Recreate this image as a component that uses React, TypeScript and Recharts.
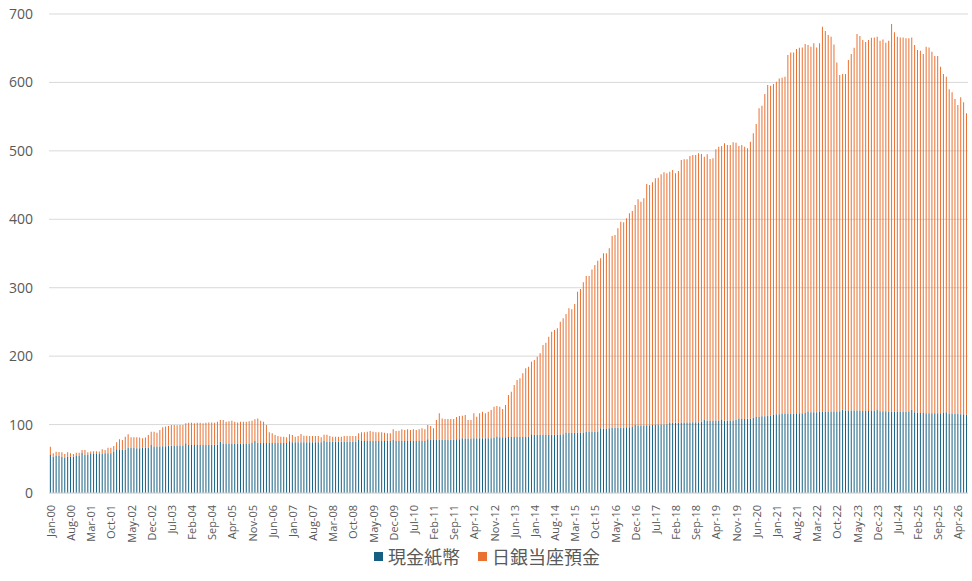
import React from "react";
import { BarChart, Bar, XAxis, YAxis, CartesianGrid, Legend } from "recharts";

// monthly, Jan-00 .. Jul-26, values in trillion yen
const monthNames = ["Jan", "Feb", "Mar", "Apr", "May", "Jun", "Jul", "Aug", "Sep", "Oct", "Nov", "Dec"];
const firstYear = 2000;
const yTicks = [0, 100, 200, 300, 400, 500, 600, 700];

// 現金紙幣
const cashNotes = [
  55.5, 53, 54, 54, 53, 52, 53, 53, 53, 54, 54, 59,
  56, 56, 57, 57, 57, 57, 57, 58, 58, 58, 60, 64,
  63, 63, 63, 66, 66, 66, 65.5, 65.5, 66, 66, 66, 70,
  68, 68, 68, 68.5, 68.5, 69, 69, 69.5, 69.5, 69.5, 69.5, 72.6,
  70, 70, 70, 70, 70, 70, 70, 70.5, 70.5, 70.5, 71, 75,
  72.5, 72.5, 72.5, 72.5, 72.5, 72.5, 72.5, 72.5, 72.5, 72.5, 73, 76,
  73, 73, 73, 73, 73, 73, 73, 73, 73, 73, 73, 75.5,
  74, 74, 74, 74, 74, 74, 74, 74, 74, 74, 74, 76.5,
  75, 75, 75, 75, 75, 75, 75, 75, 75, 75, 75, 77.5,
  76, 76, 76, 76, 76, 76, 76, 76, 76, 76, 76, 77.5,
  76, 76, 76, 76, 76, 76, 76, 76, 76, 76, 76, 78.5,
  77.5, 77.5, 77.5, 78, 78, 78, 78, 78, 78, 78.5, 78.5, 80,
  79.5, 79.5, 79.5, 80, 80, 80, 80, 80, 80, 80, 80.5, 82.5,
  81.5, 81.5, 81.5, 82, 82, 82, 82, 82, 82, 82, 82.5, 86,
  85, 85, 85, 85, 85, 85, 85, 85, 85.5, 85.5, 86, 88.5,
  88, 88, 88, 88.5, 88.5, 88.5, 89, 89, 89.5, 89.5, 90, 94.5,
  94, 94, 94.5, 95, 95, 95, 95.5, 95.5, 96, 96, 96.5, 99.5,
  98.5, 98.5, 98.5, 99, 99, 99.5, 99.5, 100, 100, 100, 100.5, 103,
  102.5, 102.5, 102.5, 103, 103, 103, 103, 103.5, 103.5, 103.5, 104, 106.5,
  105.5, 105.5, 105.5, 106, 106, 106.5, 106, 106, 106, 106, 106.5, 109,
  108, 108, 108.5, 109, 110, 111, 111.5, 112, 112, 112.5, 113, 114.5,
  115, 115, 115.5, 116, 116, 116, 116, 116.5, 116.5, 116.5, 117, 119,
  118, 118, 118, 118.5, 118.5, 119, 119, 119, 119, 119, 119.5, 122,
  120.5, 120.5, 120.5, 120.5, 120.5, 120.5, 120, 120, 120, 120, 120.5, 122,
  119.5, 119.5, 119.5, 119, 119, 119, 118.5, 118.5, 118.5, 118.5, 119, 121.5,
  118, 117.5, 117, 117, 116.5, 116.5, 116.5, 116.5, 116.5, 116.5, 117, 118,
  116, 116, 115.5, 115.5, 115, 115, 114.5,
];

// 日銀当座預金
const bojDeposits = [
  12.2, 5, 6.4, 6, 6.5, 5, 6.5, 5, 4, 5, 5, 4,
  7, 3.5, 3.5, 4, 4, 3.5, 7, 5, 8, 8, 8.7, 10,
  15.5, 14.5, 19.3, 20, 15.4, 15.4, 15.9, 15.5, 14, 15, 18.8, 19.6,
  21.6, 20, 24, 27.5, 28.5, 29, 30.4, 29.9, 29.5, 29.9, 29.9, 29.2,
  32.8, 32.8, 31.8, 32.8, 32.8, 31.8, 32.8, 32.5, 32.5, 32.3, 33.3, 31.7,
  34.2, 31.8, 32.5, 33.2, 31.8, 30.5, 31.8, 31.8, 31.8, 32.5, 32.7, 31.7,
  36, 32.7, 31.3, 26.4, 15.7, 14.2, 11.8, 10.3, 9.3, 9.3, 8.4, 10.2,
  10.8, 8.3, 9.3, 12.2, 9.8, 9.8, 9.3, 9.3, 9.3, 9.3, 7.4, 8.8,
  10.3, 8.3, 7.3, 7.3, 7.3, 7.3, 8.3, 8.3, 8.3, 8.3, 8.3, 9.7,
  12.7, 12.7, 13.6, 14.6, 13.6, 12.7, 12.7, 12.7, 12.2, 11.2, 11.2, 15.5,
  14.6, 15.1, 17, 16, 17, 16, 17, 16, 17, 18.5, 17, 20.9,
  20.5, 17, 29.2, 38.4, 31, 30.1, 30.1, 30.1, 30.1, 32.5, 34, 33,
  34.5, 27.2, 27.2, 36.4, 31.5, 36.4, 38.8, 36.4, 38.8, 41.3, 45.7, 44.6,
  44.7, 41.3, 47.1, 61.2, 66.1, 75.8, 83.1, 85.6, 92.9, 100.2, 102.1, 105.9,
  109.4, 114.2, 119.1, 131.3, 134.7, 143.5, 150.8, 153.2, 155.1, 164.9, 169.2, 173.1,
  181.9, 180.4, 188.2, 205.7, 209.6, 219.4, 228.1, 228.1, 237.3, 243.7, 249.5, 248.4,
  256.3, 256.3, 263.1, 280.6, 282, 291.8, 301, 300.1, 305.4, 312.7, 315.6, 321.4,
  330.7, 327.2, 332.1, 352.6, 351.1, 354.5, 360.4, 360.8, 365.7, 368.6, 366.7, 366.6,
  369.5, 364.7, 368.1, 383.6, 384.6, 384.6, 389.5, 390.5, 390.5, 392.9, 391.4, 385,
  389.4, 382.6, 383.6, 396.2, 400.1, 400.6, 405, 402.6, 402.6, 406.5, 405.5, 398.1,
  400.6, 398.1, 395.2, 404.4, 415.6, 428.3, 450.6, 454, 471.1, 483.7, 482.2, 483.1,
  486.1, 490.9, 491.4, 492.4, 524, 527.9, 527.9, 532.3, 534.3, 534.7, 539.1, 535.6,
  534.2, 539.1, 533.2, 538.6, 562.9, 556.1, 550.3, 547.8, 536.6, 510.3, 491.3, 490.3,
  491.8, 512.2, 521, 530.3, 550.2, 547.3, 542, 539, 542, 545.4, 545.3, 544.8,
  541.5, 543.4, 538.5, 542, 566.3, 554.2, 548.3, 547.3, 547.3, 545.9, 545.4, 544.3,
  536.6, 529.8, 529.4, 524.5, 535.7, 534.7, 528.4, 522.1, 522.1, 506.5, 495.3, 490.4,
  473.9, 469.5, 460.2, 451.5, 463.2, 455.9, 440.3,
];

const data = cashNotes.map((cash, i) => ({
  month: `${monthNames[i % 12]}-${String((firstYear + Math.floor(i / 12)) % 100).padStart(2, "0")}`,
  cash,
  deposits: bojDeposits[i],
}));

const BLUE = "#156082";
const ORANGE = "#E97132";
const TEXT = "#595959";
const FONT = "'Open Sans', 'Noto Sans CJK JP', sans-serif";

function MonthTick({ x, y, payload }: any) {
  return (
    <text
      x={x}
      y={y + 4}
      transform={`rotate(-90 ${x} ${y + 4})`}
      textAnchor="end"
      dominantBaseline="central"
      fontSize={11}
      fill={TEXT}
      fontFamily={FONT}
    >
      {payload.value}
    </text>
  );
}

function LegendBox() {
  const items = [
    { name: "現金紙幣", color: BLUE },
    { name: "日銀当座預金", color: ORANGE },
  ];
  return (
    <div style={{ display: "flex", justifyContent: "center", gap: 18, fontFamily: FONT, fontSize: 18, color: TEXT, paddingLeft: 6 }}>
      {items.map((it) => (
        <span key={it.name} style={{ display: "flex", alignItems: "center", gap: 5 }}>
          <span style={{ width: 9, height: 9, background: it.color, display: "inline-block" }} />
          {it.name}
        </span>
      ))}
    </div>
  );
}

export default function App() {
  return (
    <div style={{ position: "absolute", left: 0, top: 0, width: 972, height: 581, background: "#fff" }}>
      <BarChart
        width={972}
        height={581}
        data={data}
        margin={{ top: 14, right: 4, bottom: 4, left: 0 }}
        barCategoryGap="30%"
      >
        <CartesianGrid vertical={false} stroke="#d9d9d9" />
        <XAxis
          dataKey="month"
          interval={6}
          height={50}
          tick={<MonthTick />}
          tickLine={false}
          axisLine={{ stroke: "#d9d9d9" }}
        />
        <YAxis
          domain={[0, 700]}
          ticks={yTicks}
          width={49}
          tickLine={false}
          axisLine={false}
          tickSize={0}
          tickMargin={16}
          tick={{ fontSize: 14, fill: TEXT, fontFamily: FONT }}
        />
        <Legend verticalAlign="bottom" height={34} content={<LegendBox />} />
        <Bar dataKey="cash" name="現金紙幣" stackId="mb" fill={BLUE} isAnimationActive={false} />
        <Bar dataKey="deposits" name="日銀当座預金" stackId="mb" fill={ORANGE} isAnimationActive={false} />
      </BarChart>
    </div>
  );
}
